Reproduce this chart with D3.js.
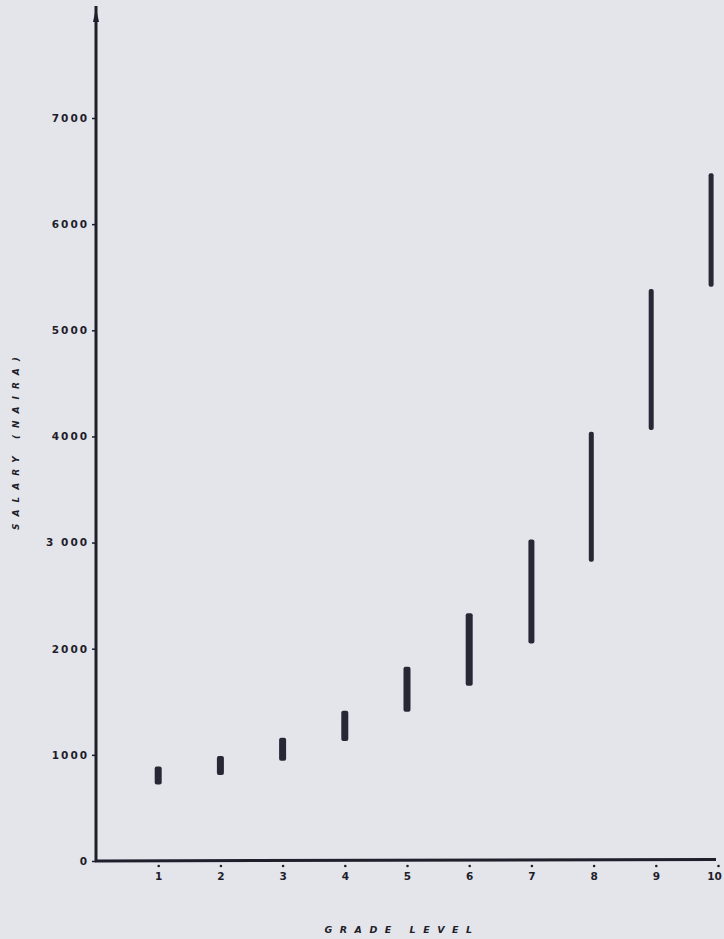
<!DOCTYPE html>
<html>
<head>
<meta charset="utf-8">
<script src="https://cdn.jsdelivr.net/npm/d3@7"></script>
<style>
  html, body { margin: 0; padding: 0; background: #e4e4eb; }
  svg { display: block; }
  text { font-family: "DejaVu Sans", sans-serif; fill: #1e1e2a; }
</style>
</head>
<body>
<script>
// ---- data ----
const grades = [1, 2, 3, 4, 5, 6, 7, 8, 9, 10];
const minSalary = [720, 810, 945, 1130, 1405, 1650, 2050, 2820, 4060, 5410];
const maxSalary = [890, 990, 1160, 1415, 1830, 2335, 3030, 4045, 5390, 6480];
const yTicks = [0, 1000, 2000, 3000, 4000, 5000, 6000, 7000];
const yTickLabels = ["0", "1000", "2000", "3 000", "4000", "5000", "6000", "7000"];
const xTitle = "GRADE LEVEL";
const yTitle = "SALARY (NAIRA)";

const W = 724, H = 939;
const ink = "#1f1f2b";

const svg = d3.select("body").append("svg").attr("width", W).attr("height", H);
svg.append("rect").attr("width", W).attr("height", H).attr("fill", "#e4e4eb");

const x = d3.scaleLinear().domain([0, 10]).range([96, 718]);
const y = d3.scaleLinear().domain([0, 7000]).range([861, 118]);

// y axis
const yAxis = svg.append("g").attr("transform", `translate(${x(0)},0)`)
  .call(d3.axisLeft(y).tickValues(yTicks).tickSize(4).tickPadding(3)
    .tickFormat((d, i) => yTickLabels[i]));
yAxis.select(".domain").remove();
yAxis.selectAll(".tick line").attr("stroke", ink).attr("stroke-width", 1.5);
yAxis.selectAll(".tick text")
  .style("font-size", "10.5px").style("font-weight", "bold")
  .style("letter-spacing", "2px").attr("fill", ink);

// y axis line with arrow
svg.append("line").attr("x1", x(0)).attr("x2", x(0)).attr("y1", 6).attr("y2", y(0) + 1)
  .attr("stroke", ink).attr("stroke-width", 3);
svg.append("path")
  .attr("d", `M${x(0)},8 L${x(0) - 3},22 L${x(0) + 3},22 Z`)
  .attr("fill", ink);

// x axis
const xAxis = svg.append("g").attr("transform", `translate(0,${y(0)})`)
  .call(d3.axisBottom(x).tickValues(grades).tickSize(0).tickPadding(12)
    .tickFormat(d3.format("d")));
xAxis.select(".domain").remove();
xAxis.selectAll(".tick text")
  .style("font-size", "10.5px").style("font-weight", "bold").attr("fill", ink)
  .attr("dx", d => d === 10 ? -4 : 0);
xAxis.selectAll(".tick").append("circle").attr("cx", 0).attr("cy", 5).attr("r", 1.3).attr("fill", ink);

svg.append("line").attr("x1", x(0) - 1).attr("x2", 716).attr("y1", y(0)).attr("y2", y(0) - 1.5)
  .attr("stroke", ink).attr("stroke-width", 3);

// range bars
const barW = g => g <= 6 ? 7 : (g === 7 ? 6 : 5);
const barShift = g => g > 7 ? -(g - 7) * 2.3 : 0;
svg.append("g").selectAll("rect").data(grades).join("rect")
  .attr("x", g => x(g) - barW(g) / 2 + barShift(g))
  .attr("width", g => barW(g))
  .attr("y", (g, i) => y(maxSalary[i]))
  .attr("height", (g, i) => y(minSalary[i]) - y(maxSalary[i]))
  .attr("rx", 2)
  .attr("fill", "#272736");

// titles
svg.append("text").attr("x", 402).attr("y", 933).attr("text-anchor", "middle")
  .style("font-size", "9.5px").style("font-weight", "bold").style("font-style", "italic")
  .style("letter-spacing", "7.5px").attr("fill", ink).text(xTitle);

svg.append("text").attr("transform", "translate(19,440) rotate(-90)").attr("text-anchor", "middle")
  .style("font-size", "9px").style("font-weight", "bold").style("font-style", "italic")
  .style("letter-spacing", "7px").attr("fill", ink).text(yTitle);
</script>
</body>
</html>
